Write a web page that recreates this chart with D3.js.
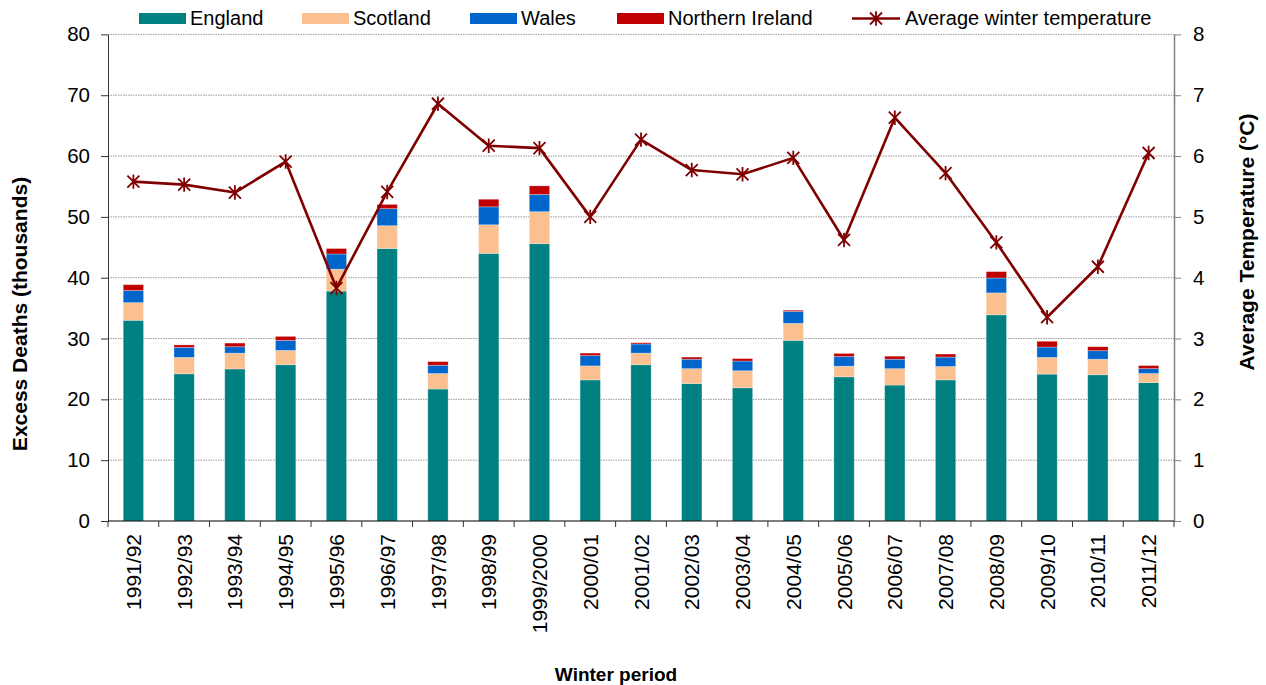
<!DOCTYPE html>
<html>
<head>
<meta charset="utf-8">
<script src="https://cdn.jsdelivr.net/npm/d3@7/dist/d3.min.js"></script>
<style>
  html, body { margin: 0; padding: 0; background: #fff; }
  svg { display: block; font-family: "Liberation Sans", Arial, sans-serif; }
</style>
</head>
<body>
<svg id="chart" width="1266" height="685"></svg>
<script>
// Winter periods
const periods = ["1991/92","1992/93","1993/94","1994/95","1995/96","1996/97","1997/98",
  "1998/99","1999/2000","2000/01","2001/02","2002/03","2003/04","2004/05","2005/06",
  "2006/07","2007/08","2008/09","2009/10","2010/11","2011/12"];

// Excess winter deaths, thousands
const england  = [33.0, 24.2, 25.0, 25.7, 37.8, 44.8, 21.7, 44.0, 45.6, 23.2, 25.7, 22.6, 21.9, 29.7, 23.7, 22.35, 23.2, 33.9, 24.15, 24.05, 22.75];
const scotland = [2.9, 2.7, 2.6, 2.35, 3.6, 3.75, 2.55, 4.7, 5.25, 2.3, 1.9, 2.45, 2.8, 2.8, 1.75, 2.7, 2.2, 3.6, 2.75, 2.55, 1.5];
const wales    = [2.0, 1.65, 1.05, 1.65, 2.5, 2.8, 1.35, 2.95, 2.85, 1.7, 1.5, 1.55, 1.6, 1.95, 1.6, 1.55, 1.55, 2.45, 1.7, 1.4, 0.8];
const nIreland = [0.95, 0.4, 0.6, 0.65, 0.9, 0.7, 0.6, 1.25, 1.4, 0.4, 0.2, 0.35, 0.4, 0.2, 0.5, 0.5, 0.5, 1.05, 0.95, 0.65, 0.5];

// Average winter temperature, °C
const temperature = [5.58, 5.53, 5.40, 5.91, 3.83, 5.41, 6.86, 6.17, 6.13, 5.00, 6.27, 5.77, 5.70, 5.97, 4.62, 6.63, 5.72, 4.58, 3.35, 4.18, 6.05];

const leftTicks  = [0, 10, 20, 30, 40, 50, 60, 70, 80];
const rightTicks = [0, 1, 2, 3, 4, 5, 6, 7, 8];

const seriesNames  = ["England", "Scotland", "Wales", "Northern Ireland"];
const seriesValues = [england, scotland, wales, nIreland];
const seriesColors = ["#008080", "#FAC090", "#0066CC", "#C00000"];
const lineName  = "Average winter temperature";
const lineColor = "#800000";

const plot = { left: 108, right: 1174, top: 34.4, bottom: 521 };
const svg = d3.select("#chart");

const x = d3.scaleBand().domain(periods).range([plot.left, plot.right])
  .paddingInner(0.6).paddingOuter(0.3);
const yL = d3.scaleLinear().domain([0, 80]).range([plot.bottom, plot.top]);
const yR = d3.scaleLinear().domain([0, 8]).range([plot.bottom, plot.top]);

// Gridlines
svg.append("g").selectAll("line").data(leftTicks.filter(d => d > 0)).join("line")
  .attr("x1", plot.left).attr("x2", plot.right)
  .attr("y1", d => yL(d)).attr("y2", d => yL(d))
  .attr("stroke", "#9a9a9a").attr("stroke-width", 1).attr("stroke-dasharray", "1.5,1");

// Stacked bars
const rows = periods.map((p, i) => {
  const r = { period: p };
  seriesNames.forEach((n, k) => r[n] = seriesValues[k][i]);
  return r;
});
const stacked = d3.stack().keys(seriesNames)(rows);
svg.append("g").selectAll("g").data(stacked).join("g")
  .attr("fill", (d, i) => seriesColors[i])
  .selectAll("rect").data(d => d).join("rect")
  .attr("x", d => x(d.data.period))
  .attr("width", x.bandwidth())
  .attr("y", d => yL(d[1]))
  .attr("height", d => yL(d[0]) - yL(d[1]))
  .attr("stroke", "rgba(255,255,255,0.35)").attr("stroke-width", 0.8);

// Axes
const leftAxis = svg.append("g").attr("transform", `translate(${plot.left},0)`)
  .call(d3.axisLeft(yL).tickValues(leftTicks).tickSize(7).tickPadding(11).tickSizeOuter(0));
leftAxis.select(".domain").attr("stroke", "#333");
leftAxis.selectAll(".tick line").attr("stroke", "#333");

const rightAxis = svg.append("g").attr("transform", `translate(${plot.right},0)`)
  .call(d3.axisRight(yR).tickValues(rightTicks).tickSize(7).tickPadding(12).tickSizeOuter(0));
rightAxis.select(".domain").attr("stroke", "#808080").attr("stroke-width", 1.5);
rightAxis.selectAll(".tick line").attr("stroke", "#808080");

[leftAxis, rightAxis].forEach(a => a.selectAll("text")
  .attr("font-size", 20.5).attr("fill", "#000")
  .attr("font-family", "Liberation Sans, Arial, sans-serif"));

// Category axis: ticks at band boundaries
const bottom = svg.append("g");
bottom.append("line").attr("x1", plot.left).attr("x2", plot.right)
  .attr("y1", plot.bottom).attr("y2", plot.bottom).attr("stroke", "#000").attr("stroke-width", 1.2);
const bounds = periods.map(p => x(p) - x.step() * x.paddingOuter()).concat([plot.right]);
bottom.selectAll("line.tk").data(bounds).join("line").attr("class", "tk")
  .attr("x1", d => d).attr("x2", d => d)
  .attr("y1", plot.bottom).attr("y2", plot.bottom + 6).attr("stroke", "#333");
bottom.selectAll("text").data(periods).join("text")
  .attr("transform", d => `translate(${x(d) + x.bandwidth() / 2},534) rotate(-90)`)
  .attr("text-anchor", "end").attr("dy", "0.36em")
  .attr("font-size", 21).attr("fill", "#000").text(d => d);

// Temperature line with star markers
const pts = periods.map((p, i) => [x(p) + x.bandwidth() / 2, yR(temperature[i])]);
svg.append("path").datum(pts)
  .attr("d", d3.line())
  .attr("fill", "none").attr("stroke", lineColor).attr("stroke-width", 2.6)
  .attr("stroke-linejoin", "round");

function star(g, cx, cy, r) {
  g.append("path")
    .attr("d", `M${cx - r},${cy - r}L${cx + r},${cy + r}M${cx - r},${cy + r}L${cx + r},${cy - r}M${cx},${cy - r * 1.2}L${cx},${cy + r * 1.2}`)
    .attr("stroke", lineColor).attr("stroke-width", 1.8).attr("fill", "none");
}
const markers = svg.append("g");
pts.forEach(p => star(markers, p[0], p[1], 6));

// Axis titles
svg.append("text").attr("transform", "translate(27,314) rotate(-90)")
  .attr("text-anchor", "middle").attr("font-size", 21).attr("font-weight", "bold")
  .text("Excess Deaths (thousands)");
svg.append("text").attr("transform", "translate(1254,242) rotate(-90)")
  .attr("text-anchor", "middle").attr("font-size", 21).attr("font-weight", "bold")
  .text("Average Temperature (°C)");
svg.append("text").attr("x", 616).attr("y", 681)
  .attr("text-anchor", "middle").attr("font-size", 19).attr("font-weight", "bold")
  .text("Winter period");

// Legend
const legendX = [139, 302, 470, 617];
const legend = svg.append("g");
seriesNames.forEach((n, i) => {
  legend.append("rect").attr("x", legendX[i]).attr("y", 13).attr("width", 47).attr("height", 11)
    .attr("fill", seriesColors[i]);
  legend.append("text").attr("x", legendX[i] + 51).attr("y", 25)
    .attr("font-size", 20).text(n);
});
legend.append("line").attr("x1", 852).attr("x2", 900).attr("y1", 18.5).attr("y2", 18.5)
  .attr("stroke", lineColor).attr("stroke-width", 2.6);
star(legend, 876, 18.5, 6);
legend.append("text").attr("x", 905).attr("y", 25).attr("font-size", 20).text(lineName);
</script>
</body>
</html>
